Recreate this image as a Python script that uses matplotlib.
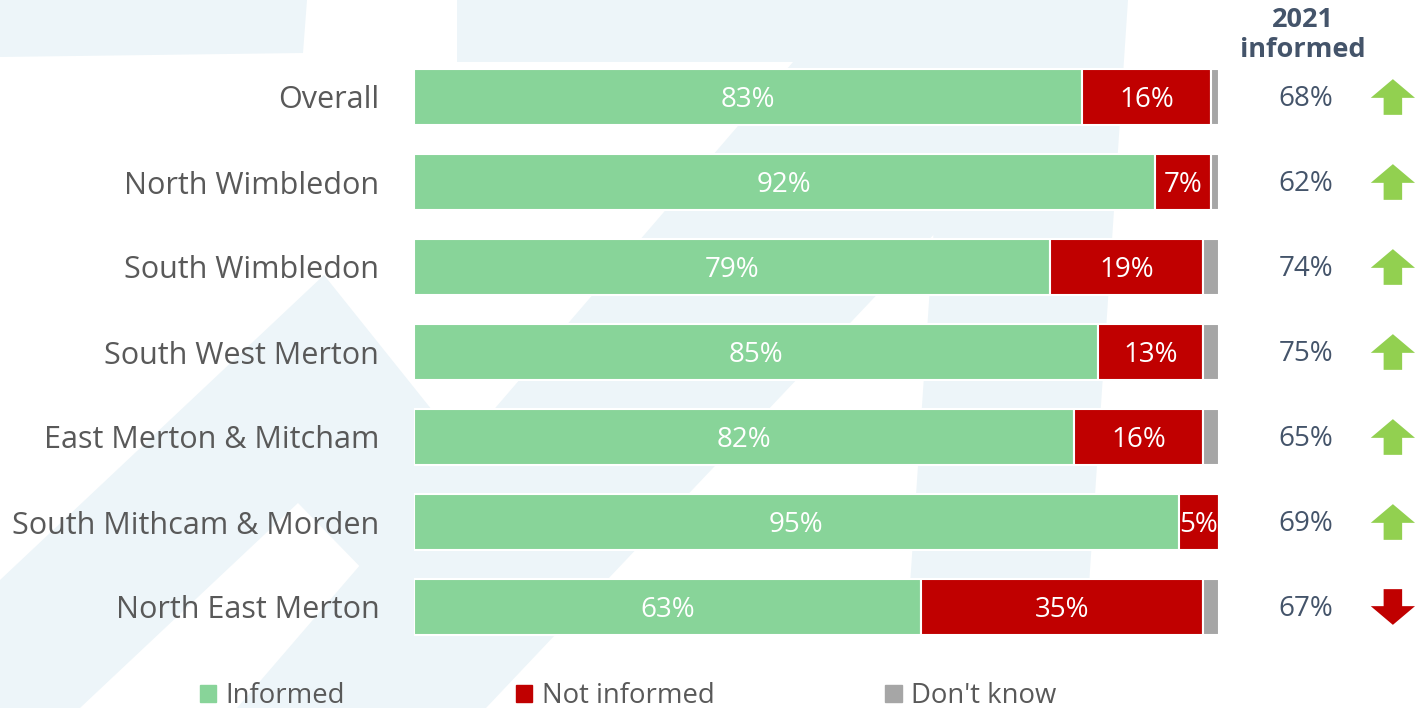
import matplotlib.pyplot as plt
from matplotlib.patches import Patch, Polygon
import numpy as np

plt.rcParams['font.family'] = ['Open Sans', 'DejaVu Sans']

areas = ["Overall", "North Wimbledon", "South Wimbledon", "South West Merton",
         "East Merton & Mitcham", "South Mithcam & Morden", "North East Merton"]
informed = [83, 92, 79, 85, 82, 95, 63]
not_informed = [16, 7, 19, 13, 16, 5, 35]
dont_know = [1, 1, 2, 2, 2, 0, 2]
informed_2021 = [68, 62, 74, 75, 65, 69, 67]

GREEN = "#88d499"
RED = "#c00000"
GREY = "#a6a6a6"
LABEL = "#595959"
SLATE = "#44546a"
WASH = "#edf5f9"

W, H = 1417, 708
fig = plt.figure(figsize=(W / 100, H / 100), dpi=100)

# faint logo shapes behind everything, drawn in pixel space
bg = fig.add_axes([0, 0, 1, 1], zorder=-1)
bg.set_xlim(0, W)
bg.set_ylim(H, 0)
bg.axis("off")
shapes = [
    [(0, 0), (307, 0), (303, 53), (0, 57)],
    [(457, 0), (1128, 0), (1088, 600), (909, 600), (945, 62), (457, 62)],
    [(793, 62), (1097, 62), (486, 708), (237, 708)],
    [(0, 580), (324, 275), (480, 470), (480, 690), (298, 503), (80, 708), (0, 708)],
]
for pts in shapes:
    bg.add_patch(Polygon(pts, closed=True, color=WASH, lw=0))

ax = fig.add_axes([414 / W, 1 - 649.5 / H, 805 / W, 595 / H])
ax.patch.set_alpha(0)
y = np.arange(len(areas))
inf = np.array(informed)
ninf = np.array(not_informed)
dk = np.array(dont_know)

h = 0.65
ax.barh(y, inf, height=h, color=GREEN, edgecolor="white", lw=1.5)
ax.barh(y, ninf, left=inf, height=h, color=RED, edgecolor="white", lw=1.5)
ax.barh(y, dk, left=inf + ninf, height=h, color=GREY, edgecolor="white", lw=1.5)

for i in range(len(areas)):
    ax.text(inf[i] / 2, y[i] + 0.03, f"{inf[i]}%", ha="center", va="center",
            color="white", fontsize=20)
    ax.text(inf[i] + ninf[i] / 2, y[i] + 0.03, f"{ninf[i]}%", ha="center",
            va="center", color="white", fontsize=20)
    # last year's figure and direction of change
    ax.text(110.8, y[i] + 0.02, f"{informed_2021[i]}%", ha="center", va="center",
            color=SLATE, fontsize=20, clip_on=False)
    up = inf[i] >= informed_2021[i]
    start = y[i] + 0.21 if up else y[i] - 0.21
    ax.arrow(121.6, start, 0, -0.42 if up else 0.42, width=2.3,
             head_width=5.5, head_length=0.22, length_includes_head=True,
             color="#92d050" if up else RED, lw=0, clip_on=False)

fig.text(1303 / W, 1 - 35 / H, "2021\ninformed", ha="center", va="center",
         color=SLATE, fontsize=19.5, fontweight="bold", linespacing=1.2)

ax.set_xlim(0, 100)
ax.set_ylim(len(areas) - 0.5, -0.5)
ax.set_yticks(y, areas, fontsize=22, color=LABEL)
ax.tick_params(axis="y", length=0, pad=25)
ax.set_xticks([])
for s in ax.spines.values():
    s.set_visible(False)

handles = [Patch(color=GREEN, label="Informed"),
           Patch(color=RED, label="Not informed"),
           Patch(color=GREY, label="Don't know")]
leg = fig.legend(handles=handles, loc="center", bbox_to_anchor=(628 / W, 1 - 696 / H),
                 ncol=3, frameon=False, fontsize=19.8, handlelength=0.6,
                 handleheight=0.6, handletextpad=0.35, columnspacing=6.2)
for t in leg.get_texts():
    t.set_color(LABEL)

fig.savefig("out.png", dpi=100)
